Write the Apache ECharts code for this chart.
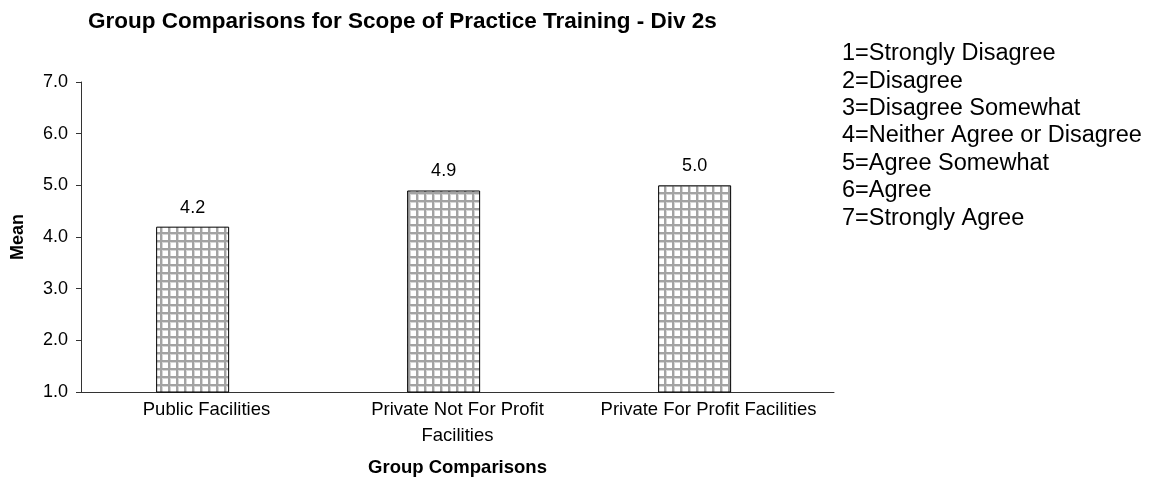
<!DOCTYPE html>
<html>
<head>
<meta charset="utf-8">
<script src="https://cdn.jsdelivr.net/npm/echarts@6/dist/echarts.min.js"></script>
<style>
  html, body { margin: 0; padding: 0; background: #fff; }
  #chart { width: 1165px; height: 479px; }
</style>
</head>
<body>
<div id="chart"></div>
<script>
const categories = ['Public Facilities', 'Private Not For Profit\nFacilities', 'Private For Profit Facilities']
const means = [4.2, 4.9, 5.0]
const scaleNotes = [
  '1=Strongly Disagree',
  '2=Disagree',
  '3=Disagree Somewhat',
  '4=Neither Agree or Disagree',
  '5=Agree Somewhat',
  '6=Agree',
  '7=Strongly Agree'
]

// small grid pattern like the old excel fill
function makePattern () {
  const c = document.createElement('canvas')
  c.width = 8
  c.height = 8
  const ctx = c.getContext('2d')
  ctx.fillStyle = '#ffffff'
  ctx.fillRect(0, 0, 8, 8)
  ctx.fillStyle = '#d6d6d6'
  ctx.fillRect(2, 0, 1, 8)
  ctx.fillRect(0, 2, 8, 1)
  ctx.fillStyle = '#a3a3a3'
  ctx.fillRect(0, 0, 2, 8)
  ctx.fillRect(0, 0, 8, 2)
  return c
}

const font = '"Liberation Sans", Arial, sans-serif'
const chart = echarts.init(document.getElementById('chart'))
const option = {
  animation: false,
  textStyle: { fontFamily: font },
  title: [
    {
      text: 'Group Comparisons for Scope of Practice Training - Div 2s',
      left: 88,
      top: 10,
      padding: 0,
      textStyle: { fontSize: 22.5, fontWeight: 'bold', color: '#000', fontFamily: font }
    },
    {
      text: scaleNotes.join('\n'),
      left: 842,
      top: 40,
      padding: 0,
      textStyle: { fontSize: 23.5, fontWeight: 'normal', color: '#000', lineHeight: 27.4, fontFamily: font }
    }
  ],
  grid: {
    left: 81,
    right: 331,
    top: 82,
    bottom: 87,
    outerBoundsMode: 'none'
  },
  xAxis: {
    type: 'category',
    data: categories,
    name: 'Group Comparisons',
    nameLocation: 'middle',
    nameGap: 66,
    nameTextStyle: { fontSize: 18.5, fontWeight: 'bold', color: '#000' },
    axisLine: { lineStyle: { color: '#333', width: 1 } },
    axisTick: { length: 5, lineStyle: { color: '#333' } },
    axisLabel: { color: '#000', fontSize: 18.5, margin: 5, lineHeight: 26, interval: 0 }
  },
  yAxis: {
    type: 'value',
    min: 1,
    max: 7,
    interval: 1,
    name: 'Mean',
    nameLocation: 'middle',
    nameGap: 54,
    nameTextStyle: { fontSize: 18, fontWeight: 'bold', color: '#000' },
    axisLine: { show: true, lineStyle: { color: '#333', width: 1 } },
    axisTick: { show: true, length: 5, lineStyle: { color: '#333' } },
    splitLine: { show: false },
    axisLabel: {
      color: '#000',
      fontSize: 18,
      margin: 13,
      formatter: v => v.toFixed(1)
    }
  },
  series: [
    {
      name: 'Mean',
      type: 'bar',
      data: means,
      barWidth: 73,
      barGap: '-62%',
      itemStyle: {
        color: { image: makePattern(), repeat: 'repeat' },
        borderColor: '#000',
        borderWidth: 1
      },
      label: {
        show: true,
        position: 'top',
        distance: 10,
        color: '#000',
        fontSize: 18,
        formatter: p => p.value.toFixed(1)
      }
    },
    {
      // empty series, only there to push the bars left like the original
      name: 'spacer',
      type: 'bar',
      data: ['-', '-', '-'],
      barWidth: 73,
      silent: true
    }
  ]
}
chart.setOption(option)
</script>
</body>
</html>
